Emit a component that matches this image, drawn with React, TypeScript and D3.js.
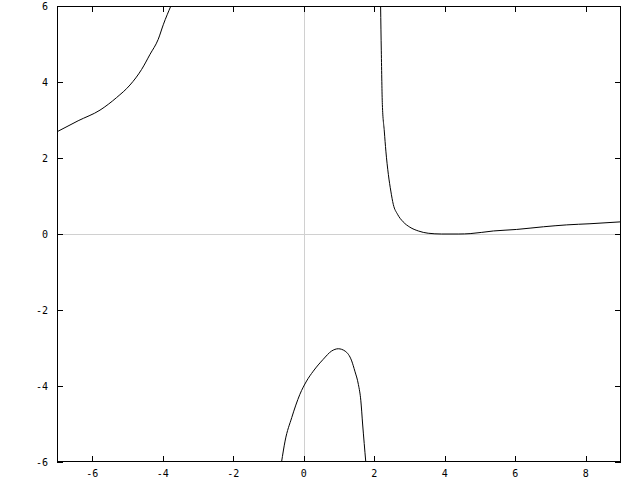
import * as d3 from 'd3';
import { useEffect, useRef } from 'react';

const margin = {
    top: 6,
    right: 19,
    bottom: 18,
    left: 57,
};

const chartWidth = 640;
const chartHeight = 480;

// tick values on both axes
const xTicks = [-6, -4, -2, 0, 2, 4, 6, 8];
const yTicks = [-6, -4, -2, 0, 2, 4, 6];

// curve pieces (x, y)
const leftBranch = [
    [-7.0, 2.69], [-6.4, 2.98], [-5.78, 3.26], [-5.31, 3.59], [-4.93, 3.92],
    [-4.6, 4.33], [-4.36, 4.73], [-4.13, 5.12], [-3.98, 5.52], [-3.77, 6.0],
];

const middleBranch = [
    [-0.63, -6.0], [-0.53, -5.45], [-0.34, -4.83], [-0.11, -4.22], [0.08, -3.87],
    [0.27, -3.61], [0.55, -3.3], [0.79, -3.08], [0.98, -3.02], [1.17, -3.08],
    [1.36, -3.34], [1.45, -3.61], [1.55, -3.96], [1.62, -4.39], [1.67, -5.0],
    [1.76, -6.0],
];

const rightBranch = [
    [2.18, 6.0], [2.2, 4.82], [2.23, 3.41], [2.285, 2.71], [2.33, 2.18],
    [2.4, 1.57], [2.47, 1.13], [2.54, 0.78], [2.66, 0.52], [2.82, 0.32],
    [3.01, 0.18], [3.25, 0.08], [3.53, 0.02], [3.91, 0.0], [4.4, 0.0],
    [4.72, 0.01], [5.38, 0.08], [6.04, 0.12], [6.8, 0.19], [7.46, 0.24],
    [8.12, 0.27], [9.0, 0.32],
];

function App() {
    const svgRef = useRef(null);

    const drawWidth = chartWidth - margin.left - margin.right;
    const drawHeight = chartHeight - margin.top - margin.bottom;

    useEffect(() => {
        const svg = d3.select(svgRef.current);
        svg.selectAll('*').remove();

        const xScale = d3.scaleLinear().domain([-7, 9]).range([margin.left, margin.left + drawWidth]);
        const yScale = d3.scaleLinear().domain([-6, 6]).range([margin.top + drawHeight, margin.top]);

        svg.append('defs').append('clipPath').attr('id', 'plot-clip')
            .append('rect')
            .attr('x', margin.left).attr('y', margin.top)
            .attr('width', drawWidth).attr('height', drawHeight);

        // zero axes in light grey
        svg.append('line')
            .attr('x1', Math.round(xScale(0)) + 0.5).attr('x2', Math.round(xScale(0)) + 0.5)
            .attr('y1', margin.top).attr('y2', margin.top + drawHeight)
            .attr('stroke', '#d0d0d0');
        svg.append('line')
            .attr('x1', margin.left).attr('x2', margin.left + drawWidth)
            .attr('y1', Math.round(yScale(0)) + 0.5).attr('y2', Math.round(yScale(0)) + 0.5)
            .attr('stroke', '#d0d0d0');

        const line = d3.line().curve(d3.curveMonotoneX).x(d => xScale(d[0])).y(d => yScale(d[1]));
        const plot = svg.append('g').attr('clip-path', 'url(#plot-clip)');
        [leftBranch, middleBranch, rightBranch].forEach(branch => {
            plot.append('path')
                .attr('d', line(branch))
                .attr('fill', 'none')
                .attr('stroke', 'black')
                .attr('stroke-width', 1);
        });

        // ticks, mirrored on all four sides, pointing in
        const tickLen = 6;
        const ticks = svg.append('g').attr('stroke', 'black').attr('shape-rendering', 'crispEdges');
        xTicks.forEach(t => {
            const x = Math.round(xScale(t)) + 0.5;
            ticks.append('line').attr('x1', x).attr('x2', x)
                .attr('y1', margin.top + drawHeight).attr('y2', margin.top + drawHeight - tickLen);
            ticks.append('line').attr('x1', x).attr('x2', x)
                .attr('y1', margin.top).attr('y2', margin.top + tickLen);
        });
        yTicks.forEach(t => {
            const y = Math.round(yScale(t)) + 0.5;
            ticks.append('line').attr('y1', y).attr('y2', y)
                .attr('x1', margin.left).attr('x2', margin.left + tickLen);
            ticks.append('line').attr('y1', y).attr('y2', y)
                .attr('x1', margin.left + drawWidth).attr('x2', margin.left + drawWidth - tickLen);
        });

        // frame
        svg.append('rect')
            .attr('x', margin.left + 0.5).attr('y', margin.top + 0.5)
            .attr('width', drawWidth - 1).attr('height', drawHeight - 1)
            .attr('fill', 'none').attr('stroke', 'black');

        const labelFont = '"DejaVu Sans Mono", monospace';
        svg.append('g').selectAll('text').data(xTicks).enter().append('text')
            .attr('x', d => xScale(d))
            .attr('y', margin.top + drawHeight + 11)
            .attr('dy', '0.35em')
            .attr('text-anchor', 'middle')
            .attr('font-family', labelFont)
            .attr('font-size', 10)
            .text(d => d);
        svg.append('g').selectAll('text').data(yTicks).enter().append('text')
            .attr('x', margin.left - 9)
            .attr('y', d => yScale(d))
            .attr('dy', '0.35em')
            .attr('text-anchor', 'end')
            .attr('font-family', labelFont)
            .attr('font-size', 10)
            .text(d => d);
    }, [drawWidth, drawHeight]);

    return <div style={{ position: 'fixed', left: 0, top: 0 }}>
        <svg ref={svgRef} width={chartWidth} height={chartHeight} style={{ display: 'block', background: 'white' }} />
    </div>
};

export default App;
